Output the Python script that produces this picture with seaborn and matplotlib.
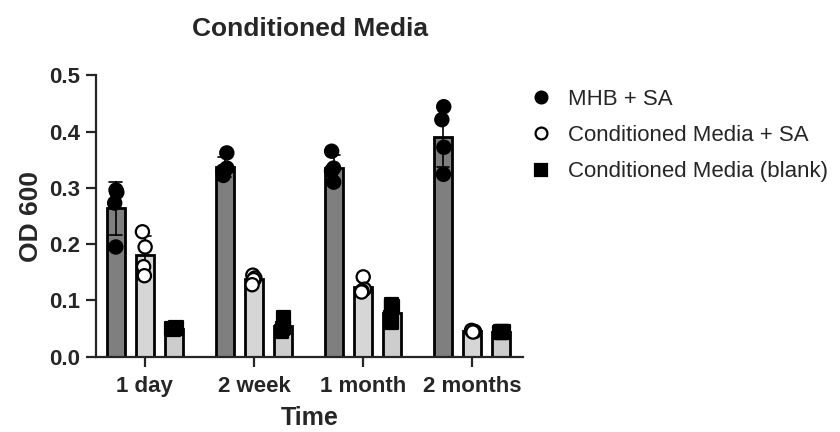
import numpy as np
import pandas as pd
import seaborn as sns
import matplotlib.pyplot as plt
from matplotlib.lines import Line2D

# values (4 replicates per bar)
times = ["1 day", "2 week", "1 month", "2 months"]
groups = ["MHB + SA", "Conditioned Media + SA", "Conditioned Media (blank)"]
mhb_sa = [[0.296, 0.292, 0.273, 0.195],
          [0.362, 0.335, 0.330, 0.322],
          [0.365, 0.335, 0.330, 0.310],
          [0.444, 0.421, 0.372, 0.324]]
cm_sa = [[0.222, 0.195, 0.160, 0.144],
         [0.145, 0.140, 0.137, 0.128],
         [0.142, 0.120, 0.117, 0.115],
         [0.047, 0.045, 0.045, 0.044]]
cm_blank = [[0.052, 0.050, 0.049, 0.050],
            [0.070, 0.052, 0.050, 0.045],
            [0.092, 0.090, 0.070, 0.062],
            [0.045, 0.044, 0.044, 0.043]]

rows = []
for g, vals in zip(groups, [mhb_sa, cm_sa, cm_blank]):
    for t, reps in zip(times, vals):
        for v in reps:
            rows.append({'Time': t, 'Group': g, 'OD': v})
df = pd.DataFrame(rows)

bar_colors = {groups[0]: '#7f7f7f', groups[1]: '#d6d6d6', groups[2]: '#cdcdcd'}
pt_colors = {groups[0]: 'black', groups[1]: 'white', groups[2]: 'black'}
markers = ['o', 'o', 's']

sns.set_style('ticks')
plt.rcParams['font.family'] = ['Liberation Sans', 'DejaVu Sans']

fig = plt.figure(figsize=(8.4, 4.32), dpi=100)
ax = fig.add_axes([0.114, 0.174, 0.509, 0.652])

sns.barplot(data=df, x='Time', y='OD', hue='Group', order=times, hue_order=groups,
            palette=bar_colors, errorbar='sd', capsize=0.35,
            err_kws={'color': 'black', 'linewidth': 1.2},
            gap=0.38, edgecolor='black', linewidth=2, legend=False, ax=ax)

np.random.seed(3)
for g, mk in zip(groups, markers):
    sub = df[df['Group'] == g]
    sns.stripplot(data=sub, x='Time', y='OD', hue='Group', order=times, hue_order=groups,
                  dodge=True, jitter=0.07, marker=mk, palette=pt_colors, size=9.5,
                  edgecolor='black', linewidth=1.6, legend=False, ax=ax, zorder=5)

ax.set_ylim(0, 0.5)
ax.set_yticks([0, 0.1, 0.2, 0.3, 0.4, 0.5])
ax.set_yticklabels(['0.0', '0.1', '0.2', '0.3', '0.4', '0.5'])
ax.set_xlim(-0.45, 3.47)
sns.despine(ax=ax)
for s in ['left', 'bottom']:
    ax.spines[s].set_linewidth(1.6)
ax.tick_params(width=1.6, length=7.5, labelsize=16)
ax.tick_params(axis='x', pad=6)
for lab in ax.get_xticklabels() + ax.get_yticklabels():
    lab.set_fontweight('bold')
ax.set_ylabel('OD 600', fontsize=19, fontweight='bold', labelpad=5)
ax.set_xlabel('Time', fontsize=18, fontweight='bold', labelpad=7)
ax.set_title('Conditioned Media', fontsize=19, fontweight='bold', pad=28)

handles = [Line2D([], [], linestyle='none', marker=mk, markersize=8.5,
                  markerfacecolor=pt_colors[g], markeredgecolor='black', markeredgewidth=1.6)
           for g, mk in zip(groups, markers)]
fig.legend(handles, groups, loc='upper left', bbox_to_anchor=(0.607, 0.84),
           frameon=False, fontsize=16, handlelength=1, handletextpad=0.7,
           labelspacing=0.68)

fig.savefig('out.png', dpi=100)
